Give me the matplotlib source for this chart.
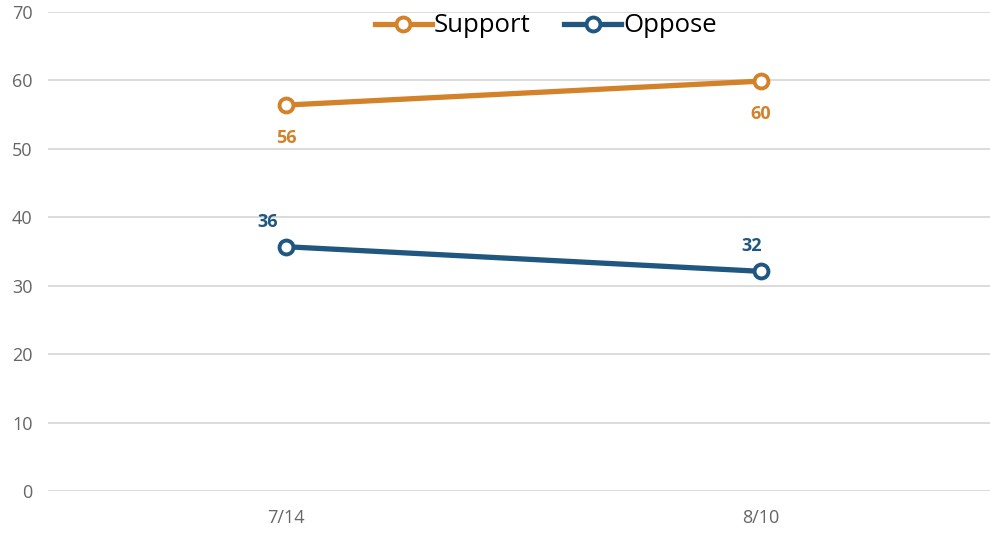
import matplotlib
matplotlib.use("Agg")
import matplotlib.pyplot as plt

plt.rcParams['font.family'] = ['Open Sans', 'DejaVu Sans']

dates = ["7/14", "8/10"]
support = [56.4, 59.9]
oppose = [35.7, 32.1]
supportLabels = ["56", "60"]
opposeLabels = ["36", "32"]

orange = "#d4822a"
blue = "#1f5780"

fig = plt.figure(figsize=(9.9, 5.33), dpi=100)
ax = fig.add_axes([48/990, 42/533, 942/990, 479/533])

x = range(len(dates))
ax.plot(x, support, color=orange, lw=3.8, marker="o", ms=10, mfc="white",
        mec=orange, mew=2.8, label="Support", zorder=3)
ax.plot(x, oppose, color=blue, lw=3.8, marker="o", ms=10, mfc="white",
        mec=blue, mew=2.8, label="Oppose", zorder=3)

# label offsets in points (dpi 100 -> 1pt = 1.39px)
supportOff = [(0, -24), (0, -24)]
opposeOff = [(-13.5, 18), (-7, 18)]
for i in x:
    ax.annotate(supportLabels[i], (i, support[i]), xytext=supportOff[i], textcoords="offset points",
                ha="center", va="center", color=orange, fontsize=13, fontweight="bold")
    ax.annotate(opposeLabels[i], (i, oppose[i]), xytext=opposeOff[i], textcoords="offset points",
                ha="center", va="center", color=blue, fontsize=13, fontweight="bold")

ax.set_xlim(-0.501, 1.482)
ax.set_ylim(0, 70)
ax.set_yticks(range(0, 71, 10))
ax.set_xticks(list(x))
ax.set_xticklabels(dates)
ax.grid(axis="y", color="#d9d9d9", lw=1.3)
ax.set_axisbelow(True)
for s in ax.spines.values():
    s.set_visible(False)
ax.tick_params(length=0, labelsize=13, labelcolor="#666666")
ax.tick_params(axis="y", pad=11)
ax.tick_params(axis="x", pad=13)

fig.legend(loc="center", bbox_to_anchor=(546/990, 1-26/533), ncol=2, frameon=False,
           fontsize=18.5, handlelength=2.2, handletextpad=0.1, columnspacing=1.3,
           borderaxespad=0)

fig.savefig("out.png", dpi=100)
